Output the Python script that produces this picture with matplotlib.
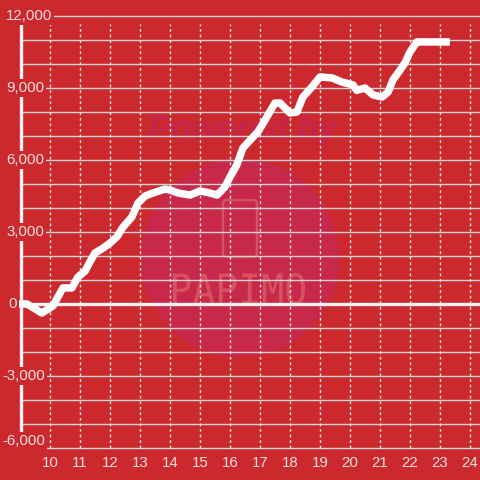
import matplotlib
matplotlib.use("Agg")
import matplotlib.pyplot as plt
from matplotlib.patches import Circle, FancyBboxPatch, PathPatch
from matplotlib.textpath import TextPath
from matplotlib.font_manager import FontProperties
from matplotlib.transforms import IdentityTransform, Affine2D

# ---- data ----
hours = [8.9, 9.23, 9.73, 10.1, 10.43, 10.73, 10.93, 11.17, 11.33, 11.5, 11.77,
         12.0, 12.23, 12.43, 12.73, 12.93, 13.17, 13.43, 13.83, 14.0, 14.27,
         14.67, 15.0, 15.33, 15.57, 15.83, 16.0, 16.23, 16.43, 16.77, 16.93,
         17.17, 17.5, 17.67, 17.83, 18.0, 18.23, 18.43, 18.73, 19.0, 19.4,
         19.73, 20.1, 20.23, 20.5, 20.77, 21.07, 21.27, 21.43, 21.67, 21.83,
         22.0, 22.23, 23.33]
values = [0, 0, -375, -80, 670, 670, 1120, 1375, 1750, 2125, 2330,
          2540, 2800, 3200, 3625, 4200, 4500, 4625, 4790, 4750, 4625,
          4540, 4710, 4625, 4540, 4875, 5290, 5800, 6500, 6960, 7170,
          7670, 8375, 8375, 8170, 7960, 8000, 8625, 9040, 9460, 9420,
          9250, 9125, 8900, 9000, 8710, 8625, 8830, 9330, 9750, 10040,
          10500, 10920, 10920]
x_ticks = list(range(10, 25))
y_ticks = [12000, 9000, 6000, 3000, 0, -3000, -6000]
y_labels = ["12,000", "9,000", "6,000", "3,000", "0", "-3,000", "-6,000"]
y_minor = list(range(-6000, 12001, 1000))

BG = "#cc292e"
TXT = "#f3dede"
GRID = "#d2d2d2"

# pixel mapping helpers (layout only)
def px_to_h(px):
    return 10 + (px - 50) / 30.0

def py_to_v(py):
    return (304 - py) / 0.024

fig = plt.figure(figsize=(4.8, 4.8), dpi=100, facecolor=BG)
ax = fig.add_axes([0, 0, 1, 1])
ax.set_facecolor(BG)
ax.set_xlim(px_to_h(0), px_to_h(480))
ax.set_ylim(py_to_v(480), py_to_v(0))
ax.axis("off")

# watermark
circ = Circle((240, 480 - 258), 99, facecolor="#c8284a", edgecolor="none", zorder=0)
circ.set_transform(IdentityTransform())
ax.add_patch(circ)
ax.text(px_to_h(243), py_to_v(131), "Powered by", color="#c4254a",
        fontsize=24, fontweight="bold", fontstyle="italic",
        family="Liberation Sans", ha="center", va="center", zorder=0.5)
phone = FancyBboxPatch((223, 480 - 257), 34, 57, boxstyle="round,pad=0,rounding_size=4",
                       transform=IdentityTransform(), facecolor="none",
                       edgecolor="#d6525e", linewidth=1.8, zorder=0.5)
ax.add_patch(phone)
tp = TextPath((0, 0), "PAPIMO", size=30,
              prop=FontProperties(family="DejaVu Sans Mono"))
bb = tp.get_extents()
sx = 132.0 / bb.width
sy = 32.0 / bb.height
tr = Affine2D().translate(-bb.x0, -bb.y0).scale(sx, sy).translate(173, 480 - 305)
pp = PathPatch(tr.transform_path(tp), facecolor="#d6525e", edgecolor="none",
               zorder=0.5)
pp.set_transform(IdentityTransform())
ax.add_patch(pp)

# horizontal grid lines
x_left = px_to_h(21)
x_right = px_to_h(480)
for v in y_minor:
    ax.plot([x_left, x_right], [v, v], color=GRID, lw=1.0, zorder=1,
            solid_capstyle="butt")

# vertical dashed grid lines
y_top = py_to_v(24)
for h in x_ticks:
    ax.plot([h, h], [-6000, y_top], color="#e6e6e6", lw=1.0,
            linestyle=(0, (2, 2)), zorder=1)

# zero line and y axis line
ax.plot([x_left, x_right], [0, 0], color="#f2f2f2", lw=2.4, zorder=2,
        solid_capstyle="butt")
ax.plot([x_left, x_left], [-6000, y_top], color="#f2f2f2", lw=2.4, zorder=2,
        solid_capstyle="butt")

# data line
ax.plot(hours, values, color="white", lw=5.4, zorder=3,
        solid_joinstyle="round", solid_capstyle="butt")

# y labels
for v, lab in zip(y_ticks, y_labels):
    if lab == "0":
        xp = 8
    elif lab.startswith("-"):
        xp = 2
    else:
        xp = 6
    yv = v
    if v == -6000:
        yv = py_to_v(441)
    ax.text(px_to_h(xp), yv, lab, color=TXT, fontsize=10.8,
            family="Liberation Sans", ha="left", va="center", zorder=4,
            bbox=dict(facecolor=BG, edgecolor="none", pad=1.5))

# x labels
for h in x_ticks:
    ax.text(h, py_to_v(463), str(h), color=TXT, fontsize=10.8,
            family="Liberation Sans", ha="center", va="center", zorder=4)

fig.savefig("out.png", dpi=100, facecolor=BG)
